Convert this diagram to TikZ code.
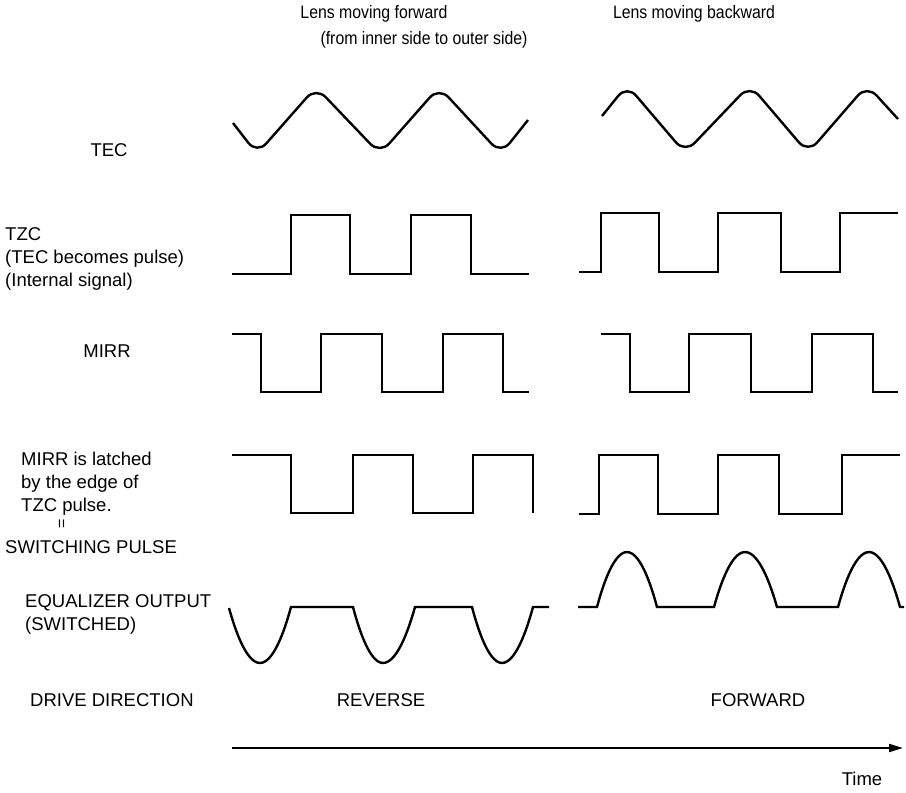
\documentclass[tikz,border=0pt]{standalone}
\usepackage{fontspec}
\setmainfont{Liberation Sans}
\newfontfamily\hdfamily[FakeStretch=0.88]{Liberation Sans}
\usetikzlibrary{arrows.meta}

\newcommand{\lblfont}{\fontsize{18.5pt}{23pt}\selectfont}
\newcommand{\hdfont}{\hdfamily\fontsize{18pt}{20pt}\selectfont}

\begin{document}
\begin{tikzpicture}[x=1pt,y=-1pt]
\useasboundingbox (0,0) rectangle (906,793);

\begin{scope}[every node/.style={font=\hdfont,inner sep=0pt}]
	%Headings
	\node (Hd_fwd) at (374, 14) {Lens moving forward};
	\node (Hd_fwd2) at (424, 40) {(from inner side to outer side)};
	\node (Hd_bwd) at (694, 14) {Lens moving backward};
\end{scope}

\begin{scope}[every node/.style={font=\lblfont,inner sep=0pt,align=left}]
	%Signal names
	\node (TEC) at (109, 150) {TEC};
	\node[anchor=west] (TZC) at (5, 259) {TZC\\(TEC becomes pulse)\\(Internal signal)};
	\node (MIRR) at (107, 351) {MIRR};
	\node[anchor=west] (SW_note) at (21, 484) {MIRR is latched\\by the edge of\\TZC pulse.};
	\node[anchor=west] (SW) at (5, 547) {SWITCHING PULSE};
	\node[anchor=west] (EQ) at (25, 614.5) {EQUALIZER OUTPUT\\(SWITCHED)};
	\node[anchor=west] (DD) at (30, 700) {DRIVE DIRECTION};
	
	%Directions
	\node (REV) at (381, 700) {REVERSE};
	\node (FWD) at (758, 700) {FORWARD};
	\node (Time) at (862, 779) {Time};
\end{scope}

\node[rotate=90,font=\fontsize{16pt}{16pt}\selectfont,inner sep=0pt] (SW_eq) at (63, 524) {=};

\begin{scope}[line width=2.4pt]
	%TEC
	\draw[rounded corners=14pt] (233,123) -- (257,154) -- (316,87) -- (380,154) -- (439,87) -- (501,154) -- (528,120);
	\draw[rounded corners=14pt] (602,116) -- (627,85) -- (685,153) -- (750,85) -- (808,153) -- (867,85) -- (898,119);
	
	%TZC
	\draw (232,274) -- (291,274) -- (291,215) -- (350,215) -- (350,274) -- (411,274) -- (411,215) -- (471,215) -- (471,274) -- (529,274);
	\draw (579,272) -- (601,272) -- (601,213) -- (659,213) -- (659,272) -- (718,272) -- (718,213) -- (781,213) -- (781,272) -- (840,272) -- (840,213) -- (898,213);
	
	%MIRR
	\draw (232,334) -- (261,334) -- (261,392) -- (321,392) -- (321,334) -- (382,334) -- (382,392) -- (443,392) -- (443,334) -- (503,334) -- (503,392) -- (529,392);
	\draw (601,334) -- (630,334) -- (630,392) -- (689,392) -- (689,334) -- (751,334) -- (751,392) -- (812,392) -- (812,334) -- (873,334) -- (873,392) -- (898,392);
	
	%Switching pulse
	\draw (232,455) -- (291,455) -- (291,513) -- (353,513) -- (353,455) -- (413,455) -- (413,513) -- (473,513) -- (473,455) -- (533,455) -- (533,513);
	\draw (579,514) -- (599,514) -- (599,455) -- (658,455) -- (658,514) -- (718,514) -- (718,455) -- (779,455) -- (779,514) -- (842,514) -- (842,455) -- (900,455);
	
	%Equalizer output
	\draw (229,608) parabola bend (260,663) (291,607) -- (353,607) parabola bend (383,663) (415,607) -- (472,607) parabola bend (502,663) (533,607) -- (549,607);
	\draw (578,607) -- (597,607) parabola bend (627,552) (657,607) -- (714,607) parabola bend (745,552) (777,607) -- (838,607) parabola bend (869,552) (900,607) -- (904,607);
\end{scope}

%Time axis
\coordinate (T_start) at (232, 748);
\coordinate (T_end) at (903, 748);
\draw[line width=2pt,-{Triangle[length=14pt,width=8pt]}] (T_start) -- (T_end);

\end{tikzpicture}
\end{document}
